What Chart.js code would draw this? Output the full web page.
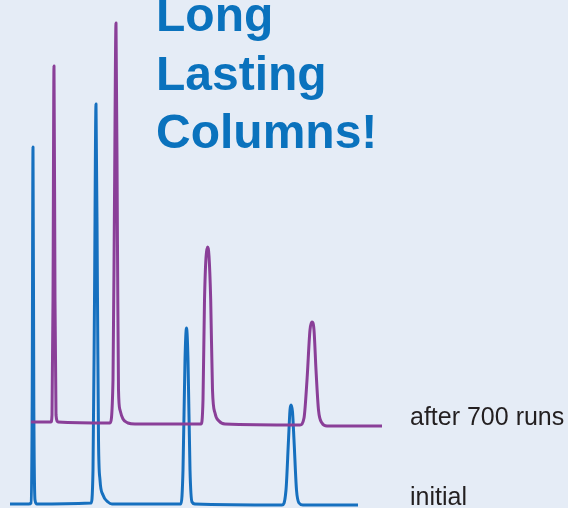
<!DOCTYPE html>
<html>
<head>
<meta charset="utf-8">
<script src="https://cdn.jsdelivr.net/npm/chart.js@4"></script>
<style>
  html, body { margin: 0; padding: 0; background: #e5ecf6; }
  #wrap { position: relative; width: 568px; height: 508px; overflow: hidden; }
  canvas { position: absolute; left: 0; top: 0; }
  .title {
    position: absolute; left: 156px; top: -14px;
    font: bold 48px "Liberation Sans", Arial, sans-serif;
    line-height: 58.5px; color: #0a72bd; white-space: nowrap;
  }
  .trace-label {
    position: absolute; left: 410px;
    font: 25px "Liberation Sans", Arial, sans-serif;
    line-height: 25px; color: #231f20; white-space: nowrap;
  }
</style>
</head>
<body>
<div id="wrap">
  <canvas id="chrom" width="568" height="508"></canvas>
  <div class="title" id="title"></div>
  <div class="trace-label" id="label-runs" style="top:404px"></div>
  <div class="trace-label" id="label-initial" style="top:484px"></div>
</div>
<script>
// --- データ（時間 min / シグナル） ---
const titleLines = ['Long', 'Lasting', 'Columns!'];
const traceNames = ['initial', 'after 700 runs'];

// 初期カラム
const initialTime = [0.25, 0.72, 0.775, 0.805, 0.825, 0.845, 0.875, 0.925,
  2.275, 2.325, 2.3625, 2.4, 2.4375, 2.4625, 2.5, 2.575, 2.7, 2.8,
  4.525, 4.575, 4.625, 4.6625, 4.7, 4.75, 4.8, 4.875,
  7.05, 7.15, 7.2125, 7.25, 7.275, 7.3125, 7.35, 7.4125, 7.475, 7.575, 8.95];
const initialSignal = [0, 0, 0.2, 20.8, 71.4, 20.8, 0.8, 0,
  0.2, 6.8, 40.8, 80, 40.8, 12.8, 4.8, 1.8, 0.4, 0,
  0, 6.8, 28.8, 35.2, 28.8, 6.8, 0.4, 0,
  -0.2, 2.8, 12.8, 18.8, 19.8, 18.4, 12.8, 2.8, 0.2, -0.2, -0.2];

// 700回後
const runsTime = [0.775, 1.275, 1.3, 1.325, 1.35, 1.375, 1.4, 1.45,
  2.75, 2.825, 2.8625, 2.9, 2.9375, 2.9625, 3.0, 3.075, 3.2, 3.375,
  5.025, 5.075, 5.1125, 5.1875, 5.225, 5.2675, 5.3125, 5.375, 5.475, 5.625,
  7.5, 7.6, 7.675, 7.75, 7.8, 7.85, 7.9, 7.9625, 8.05, 8.175, 9.55];
const runsSignal = [16.4, 16.4, 17.8, 40.8, 87.6, 40.8, 17.8, 16.4,
  16.2, 24.8, 60.8, 96.2, 50.8, 22.8, 18.8, 17.0, 16.2, 16.0,
  16.0, 20.8, 40.8, 51.4, 49.6, 40.8, 22.8, 18.2, 16.6, 16.0,
  15.8, 17.2, 24.8, 34.8, 36.4, 34.8, 26.8, 18.8, 16.2, 15.6, 15.6];

const toPoints = (xs, ys) => xs.map((x, i) => ({ x: x, y: ys[i] }));

// テキスト（HTMLのまま）
document.getElementById('title').innerHTML = titleLines.join('<br>');
document.getElementById('label-initial').textContent = traceNames[0];
document.getElementById('label-runs').textContent = traceNames[1];

// --- クロマトグラム描画 ---
const ctx = document.getElementById('chrom').getContext('2d');
new Chart(ctx, {
  type: 'line',
  data: {
    datasets: [
      {
        label: traceNames[1],
        data: toPoints(runsTime, runsSignal),
        borderColor: '#8a3f98',
        borderWidth: 3,
        pointRadius: 0,
        cubicInterpolationMode: 'monotone',
        borderJoinStyle: 'round'
      },
      {
        label: traceNames[0],
        data: toPoints(initialTime, initialSignal),
        borderColor: '#1670bf',
        borderWidth: 3,
        pointRadius: 0,
        cubicInterpolationMode: 'monotone',
        borderJoinStyle: 'round'
      }
    ]
  },
  options: {
    responsive: false,
    animation: false,
    layout: { padding: 0 },
    scales: {
      x: { type: 'linear', min: 0, max: 14.2, display: false },
      y: { min: -0.8, max: 100.8, display: false }
    },
    plugins: { legend: { display: false }, tooltip: { enabled: false } }
  }
});
</script>
</body>
</html>
